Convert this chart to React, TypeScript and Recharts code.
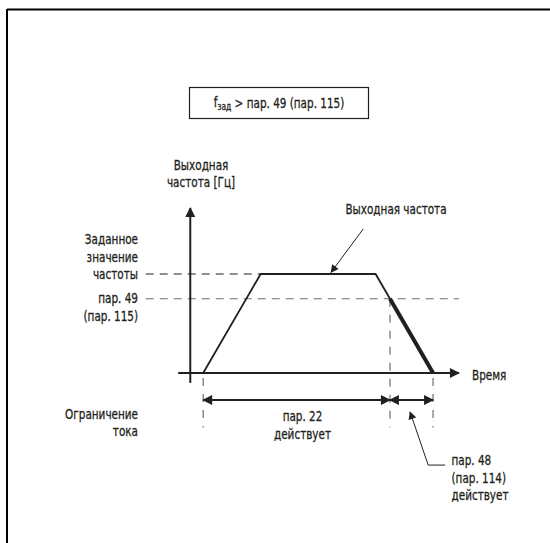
import React from 'react';
import { LineChart, Line, XAxis, YAxis, ReferenceLine } from 'recharts';

// time axis (arbitrary units) and output frequency (Hz-ish units)
const phaseTimes = [0, 2, 6, 6.5, 8]; // start, reach setpoint, decel start, cross par.49, stop
const phaseFreq = [0, 60, 60, 45, 0];
const setpointFreq = 60;
const par49Freq = 45;

const axisTimeRange = [-0.87, 8.9];
const axisFreqRange = [-6, 100];
const yAxisTime = -0.45;
const guideStartTime = -2;
const dimFreq = -16.4;
const guideBottomFreq = -33;

const ink = '#231f20';
const FONT = "'DejaVu Sans Condensed', 'DejaVu Sans', sans-serif";
const SX = 0.8; // squeeze to mimic the condensed face of the original

const accelData = phaseTimes.slice(0, 4).map((t, i) => ({ t, f: phaseFreq[i] }));
const decelData = phaseTimes.slice(3).map((t, i) => ({ t, f: phaseFreq[i + 3] }));

const T = (x: number, y: number, s: string, anchor: 'start' | 'middle' | 'end' = 'middle') => (
  <g key={s + x + y} transform={`translate(${x},${y}) scale(${SX},1)`}>
    <text x={0} y={0} textAnchor={anchor} dominantBaseline="central"
      fontFamily={FONT} fontSize={14.5} fill={ink} stroke={ink} strokeWidth={0.3}>{s}</text>
  </g>
);

export default function App() {
  return (
    <div style={{ position: 'absolute', left: 0, top: 0, width: 550, height: 543, background: '#fff' }}>
      <LineChart width={550} height={543} margin={{ top: 175, right: 2, bottom: 38, left: 117 }}>
        <defs>
          <marker id="ah" viewBox="0 0 10 10" refX="9" refY="5" markerWidth="12" markerHeight="10"
            markerUnits="userSpaceOnUse" orient="auto-start-reverse">
            <path d="M0,0 L10,5 L0,10 z" fill={ink} />
          </marker>
          <marker id="ahs" viewBox="0 0 10 10" refX="9" refY="5" markerWidth="10" markerHeight="8"
            markerUnits="userSpaceOnUse" orient="auto-start-reverse">
            <path d="M0,0 L10,5 L0,10 z" fill={ink} />
          </marker>
        </defs>
        <XAxis type="number" dataKey="t" domain={[-3, 12]} hide allowDataOverflow />
        <YAxis type="number" dataKey="f" domain={[-80, 120]} hide allowDataOverflow />

        {/* dashed guides */}
        <ReferenceLine segment={[{ x: guideStartTime, y: setpointFreq }, { x: phaseTimes[1], y: setpointFreq }]}
          stroke={ink} strokeWidth={1} strokeDasharray="8 6" ifOverflow="visible" />
        <ReferenceLine segment={[{ x: guideStartTime, y: par49Freq }, { x: axisTimeRange[1], y: par49Freq }]}
          stroke="#6d6e70" strokeWidth={1.2} strokeDasharray="8 6" ifOverflow="visible" />
        <ReferenceLine segment={[{ x: phaseTimes[0], y: -3 }, { x: phaseTimes[0], y: guideBottomFreq }]}
          stroke="#6d6e70" strokeWidth={1.2} strokeDasharray="8 8" ifOverflow="visible" />
        <ReferenceLine segment={[{ x: phaseTimes[3], y: par49Freq }, { x: phaseTimes[3], y: guideBottomFreq }]}
          stroke="#6d6e70" strokeWidth={1.2} strokeDasharray="8 8" ifOverflow="visible" />
        <ReferenceLine segment={[{ x: phaseTimes[4], y: -3 }, { x: phaseTimes[4], y: guideBottomFreq }]}
          stroke="#6d6e70" strokeWidth={1.2} strokeDasharray="8 8" ifOverflow="visible" />

        {/* axes */}
        <ReferenceLine segment={[{ x: yAxisTime, y: axisFreqRange[0] }, { x: yAxisTime, y: axisFreqRange[1] }]}
          stroke={ink} strokeWidth={2} markerEnd="url(#ah)" ifOverflow="visible" />
        <ReferenceLine segment={[{ x: axisTimeRange[0], y: 0 }, { x: axisTimeRange[1], y: 0 }]}
          stroke={ink} strokeWidth={2} markerEnd="url(#ah)" ifOverflow="visible" />

        {/* dimension arrows */}
        <ReferenceLine segment={[{ x: phaseTimes[0], y: dimFreq }, { x: phaseTimes[3], y: dimFreq }]}
          stroke={ink} strokeWidth={2} markerStart="url(#ah)" markerEnd="url(#ah)" ifOverflow="visible" />
        <ReferenceLine segment={[{ x: phaseTimes[3], y: dimFreq }, { x: phaseTimes[4], y: dimFreq }]}
          stroke={ink} strokeWidth={2} markerStart="url(#ah)" markerEnd="url(#ah)" ifOverflow="visible" />

        {/* pointers */}
        <ReferenceLine segment={[{ x: 5.57, y: 87.3 }, { x: 4.45, y: 61 }]}
          stroke={ink} strokeWidth={1} markerEnd="url(#ahs)" ifOverflow="visible" />
        <ReferenceLine segment={[{ x: 7.83, y: -55.8 }, { x: 7.2, y: -23.6 }]}
          stroke={ink} strokeWidth={1} markerEnd="url(#ahs)" ifOverflow="visible" />
        <ReferenceLine segment={[{ x: 7.83, y: -55.8 }, { x: 8.42, y: -55.8 }]}
          stroke={ink} strokeWidth={1} ifOverflow="visible" />

        {/* output frequency */}
        <Line data={accelData} dataKey="f" type="linear" stroke={ink} strokeWidth={1.8}
          dot={false} activeDot={false} isAnimationActive={false} strokeLinejoin="miter" />
        <Line data={decelData} dataKey="f" type="linear" stroke={ink} strokeWidth={4}
          dot={false} activeDot={false} isAnimationActive={false} />

        {/* frame + title */}
        <line x1={7} y1={9.5} x2={550} y2={9.5} stroke="#000" strokeWidth={2} />
        <line x1={7} y1={9} x2={7} y2={543} stroke="#000" strokeWidth={2} />
        <rect x={189.5} y={87.5} width={179} height={31} fill="none" stroke={ink} strokeWidth={1.2} />
        <g transform={`translate(279,102) scale(${SX},1)`}>
          <text x={0} y={0} textAnchor="middle" dominantBaseline="central" fontFamily={FONT} fontSize={14.5}
            fill={ink} stroke={ink} strokeWidth={0.3}>
            f<tspan dy={4} fontSize={10.5}>зад</tspan><tspan dy={-4}> &gt; пар. 49 (пар. 115)</tspan>
          </text>
        </g>

        {T(201, 165, 'Выходная')}
        {T(201, 182.5, 'частота [Гц]')}
        {T(396, 209.5, 'Выходная частота')}
        {T(138, 239, 'Заданное', 'end')}
        {T(138, 257, 'значение', 'end')}
        {T(138, 274, 'частоты', 'end')}
        {T(138, 298.5, 'пар. 49', 'end')}
        {T(138, 316, '(пар. 115)', 'end')}
        {T(472, 375, 'Время', 'start')}
        {T(138, 414, 'Ограничение', 'end')}
        {T(138, 431, 'тока', 'end')}
        {T(302.5, 416.5, 'пар. 22')}
        {T(302.5, 434, 'действует')}
        {T(451.5, 460, 'пар. 48', 'start')}
        {T(451.5, 478, '(пар. 114)', 'start')}
        {T(451.5, 495, 'действует', 'start')}
      </LineChart>
    </div>
  );
}
